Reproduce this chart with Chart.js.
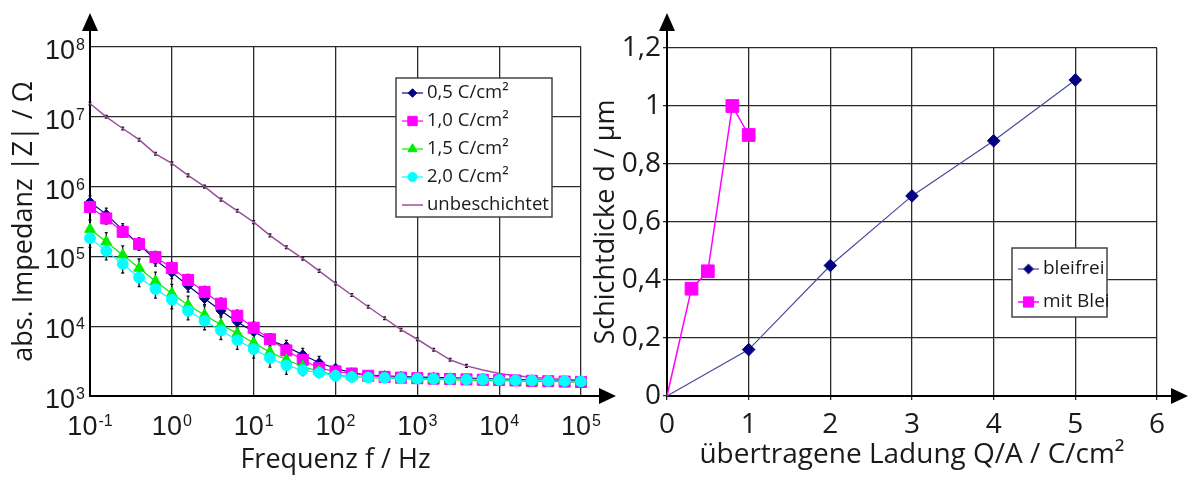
<!DOCTYPE html>
<html>
<head>
<meta charset="utf-8">
<script src="https://cdn.jsdelivr.net/npm/chart.js@4"></script>
<style>
  body { margin: 0; background: #fff; }
  #wrap { position: relative; width: 1190px; height: 477px; }
  canvas { position: absolute; top: 0; }
  #left { left: 0; }
  #right { left: 580px; }
</style>
</head>
<body>
<div id="wrap">
  <canvas id="left" width="620" height="477"></canvas>
  <canvas id="right" width="610" height="477"></canvas>
</div>
<script>
// ---- Daten links: |Z| ueber Frequenz (5 Punkte pro Dekade) ----
const freq = [0.1, 0.158, 0.251, 0.398, 0.631, 1, 1.58, 2.51, 3.98, 6.31,
  10, 15.8, 25.1, 39.8, 63.1, 100, 158, 251, 398, 631,
  1000, 1580, 2510, 3980, 6310, 10000, 15800, 25100, 39800, 63100, 100000];

const z05 = [6.0e5, 4.0e5, 2.4e5, 1.5e5, 8.9e4, 5.9e4, 3.8e4, 2.5e4, 1.66e4, 1.15e4,
  8.3e3, 6.3e3, 5.1e3, 3.9e3, 3.0e3, 2.5e3, 2.15e3, 2.0e3, 1.95e3, 1.9e3,
  1.87e3, 1.85e3, 1.82e3, 1.8e3, 1.78e3, 1.75e3, 1.73e3, 1.7e3, 1.68e3, 1.66e3, 1.64e3];
const z10 = [5.1e5, 3.5e5, 2.25e5, 1.5e5, 9.8e4, 6.8e4, 4.6e4, 3.1e4, 2.1e4, 1.41e4,
  9.5e3, 6.5e3, 4.5e3, 3.3e3, 2.5e3, 2.25e3, 2.1e3, 1.95e3, 1.88e3, 1.83e3,
  1.8e3, 1.77e3, 1.75e3, 1.73e3, 1.71e3, 1.69e3, 1.67e3, 1.65e3, 1.63e3, 1.61e3, 1.59e3];
const z15 = [2.45e5, 1.62e5, 1.05e5, 6.8e4, 4.4e4, 2.95e4, 2.0e4, 1.45e4, 1.05e4, 7.9e3,
  5.75e3, 4.25e3, 3.3e3, 2.65e3, 2.25e3, 2.0e3, 1.9e3, 1.84e3, 1.8e3, 1.77e3,
  1.75e3, 1.73e3, 1.71e3, 1.69e3, 1.67e3, 1.66e3, 1.64e3, 1.62e3, 1.61e3, 1.6e3, 1.58e3];
const z20 = [1.82e5, 1.2e5, 7.8e4, 5.0e4, 3.4e4, 2.4e4, 1.66e4, 1.2e4, 8.7e3, 6.3e3,
  4.7e3, 3.5e3, 2.75e3, 2.35e3, 2.15e3, 1.95e3, 1.87e3, 1.84e3, 1.82e3, 1.8e3,
  1.78e3, 1.76e3, 1.75e3, 1.73e3, 1.72e3, 1.7e3, 1.68e3, 1.67e3, 1.65e3, 1.64e3, 1.62e3];
const zBare = [1.55e7, 1.0e7, 6.8e6, 4.7e6, 2.95e6, 2.15e6, 1.45e6, 1.0e6, 6.5e5, 4.5e5,
  3.1e5, 2.0e5, 1.35e5, 9.3e4, 6.2e4, 4.1e4, 2.8e4, 1.9e4, 1.3e4, 8.9e3,
  6.5e3, 4.6e3, 3.3e3, 2.7e3, 2.35e3, 2.1e3, 1.95e3, 1.85e3, 1.78e3, 1.72e3, 1.68e3];

// Fehlerbalken in Dekaden (je Reihe), unter errMinZ nicht gezeichnet
const errDec = [0.09, 0.08, 0.13, 0.13, 0.02];
const errMinZ = 2600;

// Achsen links: Exponenten der Dekaden
const xExp = [-1, 0, 1, 2, 3, 4, 5];
const yExp = [3, 4, 5, 6, 7, 8];

// ---- Daten rechts: Schichtdicke ueber Ladung ----
const qBleifrei = [0, 1, 2, 3, 4, 5];
const dBleifrei = [0, 0.16, 0.45, 0.69, 0.88, 1.09];
const qMitBlei = [0, 0.3, 0.5, 0.8, 1.0];
const dMitBlei = [0, 0.37, 0.43, 1.0, 0.9];

const xTicksR = [0, 1, 2, 3, 4, 5, 6];
const xLabelsR = ['0', '1', '2', '3', '4', '5', '6'];
const yTicksR = [0, 0.2, 0.4, 0.6, 0.8, 1, 1.2];
const yLabelsR = ['0', '0,2', '0,4', '0,6', '0,8', '1', '1,2'];


function makeSet(label, values, color, style, radius, order) {
  return {
    label: label,
    data: freq.map((f, i) => ({x: f, y: values[i]})),
    showLine: true,
    borderColor: color,
    backgroundColor: color,
    borderWidth: 1.2,
    pointStyle: style,
    pointRadius: radius,
    pointBorderWidth: 1,
    markerSize: radius,
    order: order,
    clip: false
  };
}

//fehlerbalken ueber die y-skala
const errorBars = {
  id: 'errorBars',
  beforeDatasetsDraw(chart) {
    const ctx = chart.ctx, ys = chart.scales.y;
    ctx.save();
    ctx.strokeStyle = '#111';
    ctx.lineWidth = 1.3;
    chart.data.datasets.forEach((ds, i) => {
      const f = Math.pow(10, errDec[i]);
      chart.getDatasetMeta(i).data.forEach((pt, j) => {
        const v = ds.data[j].y;
        if (v < errMinZ) return;
        const y1 = ys.getPixelForValue(v * f), y2 = ys.getPixelForValue(v / f);
        ctx.beginPath();
        ctx.moveTo(pt.x, y1); ctx.lineTo(pt.x, y2);
        ctx.moveTo(pt.x - 1.5, y1); ctx.lineTo(pt.x + 1.5, y1);
        ctx.moveTo(pt.x - 1.5, y2); ctx.lineTo(pt.x + 1.5, y2);
        ctx.stroke();
      });
    });
    ctx.restore();
  }
};

// "10" mit hochgestelltem exponent
function drawPower(ctx, exp, x, y, align) {
  ctx.font = '27px "Liberation Sans"';
  const wBase = ctx.measureText('10').width;
  ctx.font = '16px "Liberation Sans"';
  const wExp = ctx.measureText(exp).width;
  const total = wBase + 1 + wExp;
  const start = align === 'right' ? x - total : x - total / 2;
  ctx.textAlign = 'left';
  ctx.textBaseline = 'alphabetic';
  ctx.font = '27px "Liberation Sans"';
  ctx.fillText('10', start, y + 10);
  ctx.font = '16px "Liberation Sans"';
  ctx.fillText(exp, start + wBase + 1, y + 1);
}

const powerTicks = {
  id: 'powerTicks',
  afterDraw(chart) {
    const ctx = chart.ctx, xs = chart.scales.x, ys = chart.scales.y;
    ctx.save();
    ctx.fillStyle = '#1a1a1a';
    xs.ticks.forEach((t, i) => drawPower(ctx, String(xExp[i]), xs.getPixelForValue(t.value), 425, 'center'));
    ys.ticks.forEach((t, i) => drawPower(ctx, String(yExp[i]), 85, ys.getPixelForValue(t.value) + 2, 'right'));
    ctx.restore();
  }
};

// pfeile an den achsen
function arrowPlugin(xTip) {
  return {
    id: 'arrows',
    afterDraw(chart) {
      const ctx = chart.ctx, a = chart.chartArea;
      ctx.save();
      ctx.strokeStyle = '#000';
      ctx.fillStyle = '#000';
      ctx.lineWidth = 2;
      ctx.beginPath();
      ctx.moveTo(a.left, a.top); ctx.lineTo(a.left, 28);
      ctx.moveTo(a.right, a.bottom); ctx.lineTo(xTip - 14, a.bottom);
      ctx.stroke();
      ctx.beginPath();
      ctx.moveTo(a.left, 13); ctx.lineTo(a.left - 8, 31); ctx.lineTo(a.left + 8, 31);
      ctx.closePath(); ctx.fill();
      ctx.beginPath();
      ctx.moveTo(xTip, a.bottom); ctx.lineTo(xTip - 17, a.bottom - 8); ctx.lineTo(xTip - 17, a.bottom + 8);
      ctx.closePath(); ctx.fill();
      ctx.restore();
    }
  };
}

// legende als kasten im diagramm
function legendPlugin(box, firstRow, rowGap, fontSize) {
  return {
    id: 'boxLegend',
    afterDraw(chart) {
      const ctx = chart.ctx;
      ctx.save();
      ctx.fillStyle = '#fff';
      ctx.fillRect(box.x, box.y, box.w, box.h);
      ctx.strokeStyle = '#444';
      ctx.lineWidth = 1.5;
      ctx.strokeRect(box.x, box.y, box.w, box.h);
      chart.data.datasets.forEach((ds, i) => {
        const y = firstRow + i * rowGap, x0 = box.x + 6;
        ctx.strokeStyle = ds.borderColor;
        ctx.lineWidth = ds.borderWidth;
        ctx.beginPath(); ctx.moveTo(x0, y); ctx.lineTo(x0 + 21, y); ctx.stroke();
        if (ds.markerSize > 0) {
          ctx.fillStyle = ds.backgroundColor;
          ctx.lineWidth = 1;
          Chart.helpers.drawPoint(ctx, {pointStyle: ds.pointStyle, radius: ds.markerSize * 0.85, borderWidth: 1, rotation: 0}, x0 + 10.5, y);
        }
        ctx.fillStyle = '#1a1a1a';
        ctx.font = fontSize + 'px "Open Sans"';
        ctx.textAlign = 'left';
        ctx.textBaseline = 'middle';
        ctx.fillText(ds.label, x0 + 25, y);
      });
      ctx.restore();
    }
  };
}

const gridStyle = { color: '#2a2a2a', lineWidth: 1.3, tickLength: 0 };
const axisBorder = { color: '#000', width: 2 };

// ---- linkes diagramm ----
const bare = makeSet('unbeschichtet', zBare, '#9b4f9b', 'circle', 0, 5);
bare.borderWidth = 1.5;

const leftChart = new Chart(document.getElementById('left'), {
  type: 'scatter',
  data: {
    datasets: [
      makeSet('0,5 C/cm²', z05, '#000080', 'rectRot', 5, 4),
      makeSet('1,0 C/cm²', z10, '#ff00ff', 'rect', 7.8, 3),
      makeSet('1,5 C/cm²', z15, '#00ee00', 'triangle', 6.2, 2),
      makeSet('2,0 C/cm²', z20, '#00ffff', 'circle', 5.4, 1),
      bare
    ]
  },
  options: {
    responsive: false,
    animation: false,
    layout: { padding: { top: 47, right: 39 } },
    plugins: { legend: { display: false }, tooltip: { enabled: false } },
    scales: {
      x: {
        type: 'logarithmic', min: 0.1, max: 1e5,
        afterBuildTicks: s => { s.ticks = xExp.map(e => ({value: Math.pow(10, e)})); },
        afterFit: s => { s.height = 81; },
        ticks: { display: false },
        grid: gridStyle,
        border: axisBorder,
        title: { display: true, text: 'Frequenz f / Hz', color: '#1a1a1a',
                 font: { family: 'Open Sans', size: 27 }, padding: { top: 0, bottom: 0 } }
      },
      y: {
        type: 'logarithmic', min: 1e3, max: 1e8,
        afterBuildTicks: s => { s.ticks = yExp.map(e => ({value: Math.pow(10, e)})); },
        afterFit: s => { s.width = 90; },
        ticks: { display: false },
        grid: gridStyle,
        border: axisBorder,
        title: { display: true, text: 'abs. Impedanz |Z| / Ω', color: '#1a1a1a',
                 font: { family: 'Open Sans', size: 27 }, padding: { top: 8, bottom: 0 } }
      }
    }
  },
  plugins: [errorBars, powerTicks, arrowPlugin(616), legendPlugin({x: 396, y: 78, w: 156, h: 139}, 93, 28, 18.5)]
});

// ---- rechtes diagramm ----
const rightChart = new Chart(document.getElementById('right'), {
  type: 'scatter',
  data: {
    datasets: [{
      label: 'bleifrei',
      data: qBleifrei.map((q, i) => ({x: q, y: dBleifrei[i]})),
      showLine: true,
      borderColor: '#4a4aa0',
      backgroundColor: '#000080',
      borderWidth: 1.2,
      pointStyle: 'rectRot',
      pointRadius: qBleifrei.map(q => q === 0 ? 0 : 6.3),
      pointBorderColor: '#000080',
      pointBorderWidth: 1,
      markerSize: 6,
      clip: false
    }, {
      label: 'mit Blei',
      data: qMitBlei.map((q, i) => ({x: q, y: dMitBlei[i]})),
      showLine: true,
      borderColor: '#ff00ff',
      backgroundColor: '#ff00ff',
      borderWidth: 1.5,
      pointStyle: 'rect',
      pointRadius: qMitBlei.map(q => q === 0 ? 0 : 9),
      pointBorderWidth: 1,
      markerSize: 8.5,
      clip: false
    }]
  },
  options: {
    responsive: false,
    animation: false,
    layout: { padding: { top: 48, right: 33 } },
    plugins: { legend: { display: false }, tooltip: { enabled: false } },
    scales: {
      x: {
        type: 'linear', min: 0, max: 6,
        afterBuildTicks: s => { s.ticks = xTicksR.map(v => ({value: v})); },
        afterFit: s => { s.height = 81; },
        ticks: { color: '#1a1a1a', font: { family: 'Open Sans', size: 28 }, padding: 8,
                 callback: (v, i) => xLabelsR[i] },
        grid: { color: '#2a2a2a', lineWidth: 1.3, tickLength: 4 },
        border: axisBorder,
        title: { display: true, text: 'übertragene Ladung Q/A / C/cm²', color: '#1a1a1a',
                 font: { family: 'Open Sans', size: 28 }, padding: { top: 0, bottom: 5 } }
      },
      y: {
        type: 'linear', min: 0, max: 1.2,
        afterBuildTicks: s => { s.ticks = yTicksR.map(v => ({value: v})); },
        afterFit: s => { s.width = 87; },
        ticks: { color: '#1a1a1a', font: { family: 'Open Sans', size: 28 }, padding: 2,
                 callback: (v, i) => yLabelsR[i] },
        grid: { color: '#2a2a2a', lineWidth: 1.3, tickLength: 4 },
        border: axisBorder,
        title: { display: true, text: 'Schichtdicke d / µm', color: '#1a1a1a',
                 font: { family: 'Open Sans', size: 27 }, padding: { top: 10, bottom: 0 } }
      }
    }
  },
  plugins: [arrowPlugin(608), legendPlugin({x: 432, y: 248, w: 95, h: 69}, 269, 33, 19)]
});
</script>
</body>
</html>
